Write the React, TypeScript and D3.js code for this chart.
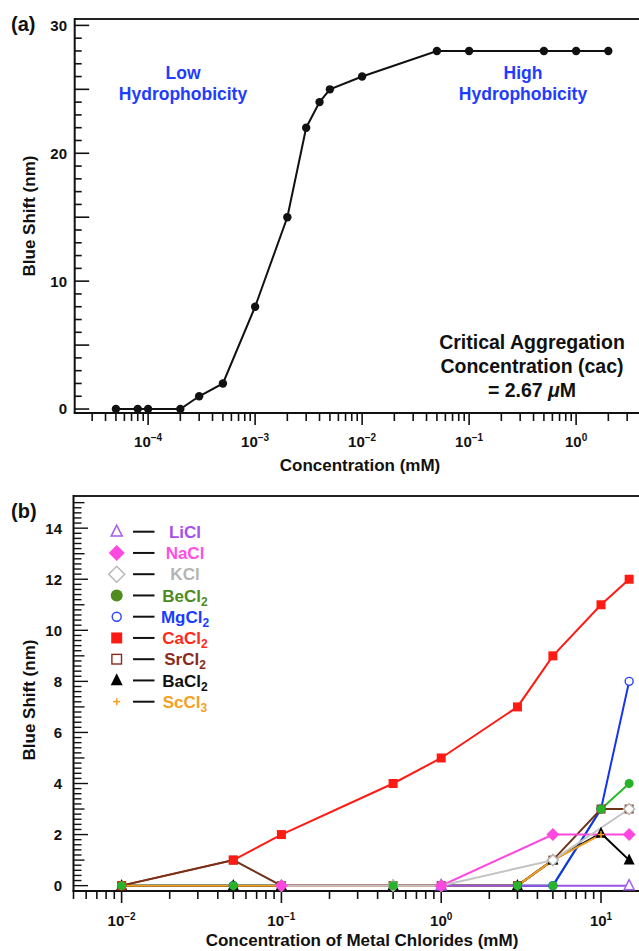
import React from "react";
import * as d3 from "d3";

// ---------- Panel (a) data ----------
const A_CONC = [5e-5, 8e-5, 1e-4, 2e-4, 3e-4, 5e-4, 1e-3, 2e-3, 3e-3, 4e-3, 5e-3, 1e-2, 5e-2, 1e-1, 5e-1, 1, 2];
const A_SHIFT = [0, 0, 0, 0, 1, 2, 8, 15, 22, 24, 25, 26, 28, 28, 28, 28, 28];
const A_YLABELS = [0, 10, 20, 30];
const A_XLABEL_EXP = [-4, -3, -2, -1, 0];

// ---------- Panel (b) data ----------
const LI_X = [1, 15];
const LI_Y = [0, 0];
const NA_X = [0.1, 1, 5, 15];
const NA_Y = [0, 0, 2, 2];
const K_X = [0.1, 0.5, 1, 5, 15];
const K_Y = [0, 0, 0, 1, 3];
const BE_X = [0.01, 0.05, 0.1, 0.5, 1, 3, 5, 10, 15];
const BE_Y = [0, 0, 0, 0, 0, 0, 0, 3, 4];
const MG_X = [0.01, 0.05, 0.1, 0.5, 1, 3, 5, 10, 15];
const MG_Y = [0, 0, 0, 0, 0, 0, 0, 3, 8];
const CA_X = [0.01, 0.05, 0.1, 0.5, 1, 3, 5, 10, 15];
const CA_Y = [0, 1, 2, 4, 5, 7, 9, 11, 12];
const SR_X = [0.01, 0.05, 0.1, 0.5, 1, 3, 5, 10, 15];
const SR_Y = [0, 1, 0, 0, 0, 0, 1, 3, 3];
const BA_X = [0.01, 0.05, 0.1, 0.5, 1, 3, 5, 10, 15];
const BA_Y = [0, 0, 0, 0, 0, 0, 1, 2.05, 1];
const SC_X = [0.01, 0.05, 0.1, 0.5, 1, 3, 5, 10];
const SC_Y = [0, 0, 0, 0, 0, 0, 1, 2];
const B_YLABELS = [0, 2, 4, 6, 8, 10, 12, 14];
const B_XLABEL_EXP = [-2, -1, 0, 1];

type Series = {
  name: string; sub: string; xs: number[]; ys: number[];
  marker: string; line: string; mark: string; legendMark: string; text: string; size: number; lsize: number;
};

const SERIES: Series[] = [
  { name: "LiCl", sub: "", xs: LI_X, ys: LI_Y, marker: "triOpen", line: "#9b55e0", mark: "#a65ef0", legendMark: "#a65ef0", text: "#a452ea", size: 10, lsize: 11 },
  { name: "NaCl", sub: "", xs: NA_X, ys: NA_Y, marker: "diamond", line: "#ff48e0", mark: "#ff48e0", legendMark: "#ff48e0", text: "#ff4fe4", size: 13, lsize: 16 },
  { name: "KCl", sub: "", xs: K_X, ys: K_Y, marker: "diamondOpen", line: "#c4c4c4", mark: "#b8b8b8", legendMark: "#b8b8b8", text: "#b4b4b4", size: 11, lsize: 16 },
  { name: "BeCl", sub: "2", xs: BE_X, ys: BE_Y, marker: "circle", line: "#22bb22", mark: "#28b428", legendMark: "#4e8c1e", text: "#4e8c1e", size: 9, lsize: 12 },
  { name: "MgCl", sub: "2", xs: MG_X, ys: MG_Y, marker: "circleOpen", line: "#1434f0", mark: "#2a44ff", legendMark: "#2a44ff", text: "#1a3cff", size: 9, lsize: 10 },
  { name: "CaCl", sub: "2", xs: CA_X, ys: CA_Y, marker: "square", line: "#ff1a14", mark: "#ff1a14", legendMark: "#ff1a14", text: "#ff2a1a", size: 9, lsize: 11 },
  { name: "SrCl", sub: "2", xs: SR_X, ys: SR_Y, marker: "squareOpen", line: "#6e3418", mark: "#8b3a22", legendMark: "#8b2a1a", text: "#8b2a1a", size: 9, lsize: 11 },
  { name: "BaCl", sub: "2", xs: BA_X, ys: BA_Y, marker: "triangle", line: "#000000", mark: "#000000", legendMark: "#000000", text: "#111111", size: 11, lsize: 12 },
  { name: "ScCl", sub: "3", xs: SC_X, ys: SC_Y, marker: "plus", line: "#f0a020", mark: "#f5a020", legendMark: "#f5a020", text: "#f5a023", size: 7, lsize: 7 },
];

const LINE_ORDER = ["BeCl", "MgCl", "CaCl", "SrCl", "BaCl", "NaCl", "ScCl", "LiCl", "KCl"];
const MARK_ORDER = ["MgCl", "SrCl", "BaCl", "ScCl", "KCl", "LiCl", "CaCl", "BeCl", "NaCl"];

const FONT = "'Liberation Sans', Arial, Helvetica, sans-serif";

function Marker({ type, x, y, s, color }: { type: string; x: number; y: number; s: number; color: string }) {
  const h = s / 2;
  switch (type) {
    case "triOpen":
      return <polygon points={`${x},${y - s * 0.6} ${x - h},${y + s * 0.4} ${x + h},${y + s * 0.4}`} fill="white" stroke={color} strokeWidth={1.5} />;
    case "triangle":
      return <polygon points={`${x},${y - s * 0.6} ${x - h},${y + s * 0.4} ${x + h},${y + s * 0.4}`} fill={color} />;
    case "diamond":
      return <polygon points={`${x},${y - h} ${x + h},${y} ${x},${y + h} ${x - h},${y}`} fill={color} />;
    case "diamondOpen":
      return <polygon points={`${x},${y - h} ${x + h},${y} ${x},${y + h} ${x - h},${y}`} fill="white" stroke={color} strokeWidth={1.5} />;
    case "circle":
      return <circle cx={x} cy={y} r={h} fill={color} />;
    case "circleOpen":
      return <circle cx={x} cy={y} r={h - 0.5} fill="white" stroke={color} strokeWidth={1.4} />;
    case "square":
      return <rect x={x - h} y={y - h} width={s} height={s} fill={color} />;
    case "squareOpen":
      return <rect x={x - h + 0.7} y={y - h + 0.7} width={s - 1.4} height={s - 1.4} fill="white" stroke={color} strokeWidth={1.4} />;
    case "plus":
      return (
        <g stroke={color} strokeWidth={1.5}>
          <line x1={x - h} x2={x + h} y1={y} y2={y} />
          <line x1={x} x2={x} y1={y - h} y2={y + h} />
        </g>
      );
    default:
      return null;
  }
}

function logTicks(domain: number[]) {
  const lo = Math.floor(Math.log10(domain[0]));
  const hi = Math.ceil(Math.log10(domain[1]));
  const out: { v: number; major: boolean; exp: number }[] = [];
  for (let e = lo; e <= hi; e++) {
    for (let k = 1; k <= 9; k++) {
      const v = k * Math.pow(10, e);
      if (v >= domain[0] * 0.999 && v <= domain[1]) out.push({ v, major: k === 1, exp: e });
    }
  }
  return out;
}

function PowLabel({ x, y, exp }: { x: number; y: number; exp: number }) {
  const sup = exp < 0 ? "\u2212" + Math.abs(exp) : String(exp);
  return (
    <text x={x} y={y} textAnchor="middle" fontFamily={FONT} fontWeight="bold" fontSize={15} fill="#111">
      10<tspan fontSize={10} dy={-6}>{sup}</tspan>
    </text>
  );
}

export default function App() {
  const W = 639, H = 951;

  const aLeft = 74.7, aTop = 19, aBottom = 413;
  const aXDom = [2.06e-5, 30];
  const xA = d3.scaleLog().domain(aXDom).range([aLeft, aLeft + 107 * Math.log10(aXDom[1] / aXDom[0])]);
  const yA = d3.scaleLinear().domain([-0.31, 30.5]).range([aBottom, aTop]);
  const lineA = d3.line<number>().x((_, i) => xA(A_CONC[i])).y((d) => yA(d));

  const bLeft = 73.5, bTop = 496, bBottom = 891;
  const bXDom = [5e-3, 30];
  const xB = d3.scaleLog().domain(bXDom).range([bLeft, bLeft + 159.8 * Math.log10(bXDom[1] / bXDom[0])]);
  const yB = d3.scaleLinear().domain([-0.21, 15.26]).range([bBottom, bTop]);

  const aYTicks = d3.range(0, 31, 1);
  const bYTicks = d3.range(0, 76, 1).map((i) => i / 5).filter((v) => v <= 15.01);

  const byName = (n: string) => SERIES.find((s) => s.name === n)!;

  return (
    <svg width={W} height={H} style={{ position: "absolute", left: 0, top: 0, background: "white" }} fontFamily={FONT}>
      <rect x={0} y={0} width={W} height={H} fill="white" />

      {/* ================= Panel (a) ================= */}
      <text x={11} y={31} fontSize={20} fontWeight="bold" fill="#111">(a)</text>
      <line x1={aLeft} x2={W + 10} y1={aTop} y2={aTop} stroke="#222" strokeWidth={2} />
      <line x1={aLeft} x2={aLeft} y1={aTop - 1} y2={aBottom} stroke="#111" strokeWidth={2} />
      <line x1={aLeft - 1} x2={W + 10} y1={aBottom} y2={aBottom} stroke="#111" strokeWidth={2} />
      {aYTicks.map((v) => (
        <line key={"ay" + v} x1={aLeft} x2={aLeft + (v % 5 === 0 ? 14.5 : 7)} y1={yA(v)} y2={yA(v)} stroke="#111" strokeWidth={1.6} />
      ))}
      {A_YLABELS.map((v) => (
        <text key={"ayl" + v} x={67} y={yA(v)} dy="0.36em" textAnchor="end" fontSize={15} fontWeight="bold" fill="#111">{v}</text>
      ))}
      {logTicks(aXDom).map((t) => (
        <line key={"ax" + t.v} x1={xA(t.v)} x2={xA(t.v)} y1={aBottom} y2={aBottom + (t.major ? 12 : 8)} stroke="#111" strokeWidth={1.6} />
      ))}
      {A_XLABEL_EXP.map((e) => (
        <PowLabel key={"axl" + e} x={xA(Math.pow(10, e))} y={447} exp={e} />
      ))}
      <text x={360} y={465} dy="0.35em" textAnchor="middle" fontSize={17} fontWeight="bold" fill="#111">Concentration (mM)</text>
      <text transform="translate(29,216) rotate(-90)" dy="0.35em" textAnchor="middle" fontSize={17} fontWeight="bold" fill="#111">Blue Shift (nm)</text>
      <path d={lineA(A_SHIFT) || ""} fill="none" stroke="#111" strokeWidth={2} />
      {A_SHIFT.map((v, i) => (
        <circle key={"ap" + i} cx={xA(A_CONC[i])} cy={yA(v)} r={4.2} fill="#111" />
      ))}
      <g fontSize={17.5} fontWeight="bold" fill="#1f3cff" textAnchor="middle">
        <text x={183} y={73} dy="0.35em">Low</text>
        <text x={183} y={94} dy="0.35em">Hydrophobicity</text>
        <text x={523} y={73} dy="0.35em">High</text>
        <text x={523} y={94} dy="0.35em">Hydrophobicity</text>
      </g>
      <g fontSize={19.5} fontWeight="bold" fill="#111" textAnchor="middle">
        <text x={532} y={342} dy="0.35em">Critical Aggregation</text>
        <text x={532} y={366} dy="0.35em">Concentration (cac)</text>
        <text x={532} y={390} dy="0.35em">= 2.67 <tspan fontStyle="italic">μ</tspan>M</text>
      </g>

      {/* ================= Panel (b) ================= */}
      <text x={11} y={518} fontSize={20} fontWeight="bold" fill="#111">(b)</text>
      <line x1={bLeft} x2={W + 10} y1={bTop} y2={bTop} stroke="#222" strokeWidth={2} />
      <line x1={bLeft} x2={bLeft} y1={bTop - 1} y2={bBottom} stroke="#111" strokeWidth={2} />
      <line x1={bLeft - 1} x2={W + 10} y1={bBottom} y2={bBottom} stroke="#111" strokeWidth={2} />
      {bYTicks.map((v, i) => {
        const isInt = i % 5 === 0;
        const even = isInt && (i / 5) % 2 === 0;
        const len = even ? 14.5 : isInt ? 11 : 8;
        return <line key={"by" + i} x1={bLeft} x2={bLeft + len} y1={yB(v)} y2={yB(v)} stroke="#111" strokeWidth={1.4} />;
      })}
      {B_YLABELS.map((v) => (
        <text key={"byl" + v} x={62} y={yB(v)} dy="0.36em" textAnchor="end" fontSize={15} fontWeight="bold" fill="#111">{v}</text>
      ))}
      {logTicks(bXDom).map((t) => (
        <line key={"bx" + t.v} x1={xB(t.v)} x2={xB(t.v)} y1={bBottom} y2={bBottom + (t.major ? 12 : 8)} stroke="#111" strokeWidth={1.6} />
      ))}
      {B_XLABEL_EXP.map((e) => (
        <PowLabel key={"bxl" + e} x={xB(Math.pow(10, e))} y={926} exp={e} />
      ))}
      <text x={362} y={946} textAnchor="middle" fontSize={17} fontWeight="bold" fill="#111">Concentration of Metal Chlorides (mM)</text>
      <text transform="translate(29,700) rotate(-90)" dy="0.35em" textAnchor="middle" fontSize={17} fontWeight="bold" fill="#111">Blue Shift (nm)</text>

      {LINE_ORDER.map((n) => {
        const s = byName(n);
        const gen = d3.line<number>().x((_, i) => xB(s.xs[i])).y((d) => yB(d));
        return <path key={"bl" + n} d={gen(s.ys) || ""} fill="none" stroke={s.line} strokeWidth={2} />;
      })}
      {MARK_ORDER.map((n) => {
        const s = byName(n);
        return (
          <g key={"bm" + n}>
            {s.ys.map((v, i) => (
              <Marker key={i} type={s.marker} x={xB(s.xs[i])} y={yB(v)} s={s.size} color={s.mark} />
            ))}
          </g>
        );
      })}

      {SERIES.map((s, i) => {
        const y = 531.7 + i * 21.25;
        return (
          <g key={"lg" + s.name}>
            <Marker type={s.marker} x={116.7} y={y} s={s.lsize} color={s.legendMark} />
            <line x1={133} x2={154.5} y1={y} y2={y} stroke="#111" strokeWidth={2} />
            <text x={185} y={y} dy="0.36em" textAnchor="middle" fontSize={17} fontWeight="bold" fill={s.text}>
              {s.name}
              {s.sub ? <tspan fontSize={12} dy={4}>{s.sub}</tspan> : null}
            </text>
          </g>
        );
      })}
    </svg>
  );
}
